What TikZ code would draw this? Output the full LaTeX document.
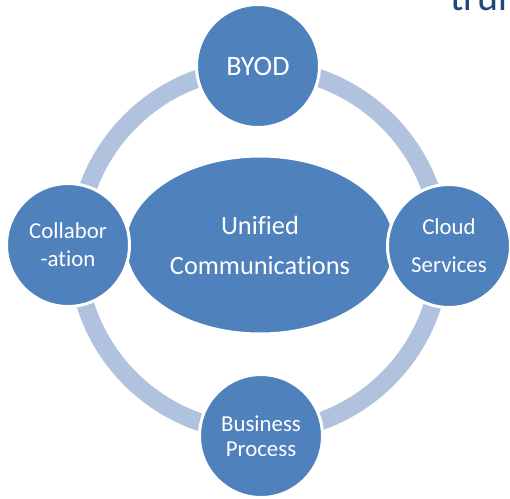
\documentclass[tikz,border=0pt]{standalone}
\usepackage{fontspec}
\setmainfont{Carlito}[Ligatures=NoCommon]
\usetikzlibrary{shapes.geometric}
\definecolor{ringblau}{RGB}{176,194,222}
\definecolor{kreisblau}{RGB}{79,129,189}
\definecolor{textblau}{RGB}{31,73,125}
\begin{document}
\begin{tikzpicture}[x=0.02cm,y=-0.02cm,
	kreis/.style={circle,fill=kreisblau,draw=white,line width=1.7pt,minimum size=2.46cm,inner sep=0pt,text=white,align=center},
	mitte/.style={ellipse,fill=kreisblau,draw=white,line width=1.7pt,minimum width=5.4cm,minimum height=3.56cm,inner sep=0pt,text=white,align=center}]
	\useasboundingbox (0,0) rectangle (510,498);
	\clip (0,0) rectangle (510,498);
	%abgeschnittener Titel
	\node [textblau,anchor=base west,font=\fontsize{22.7}{27}\selectfont,inner sep=0pt] (titel) at (450,10) {trun};
	%Ring
	\coordinate (zentrum) at (259,250);
	\draw [ringblau,line width=10.2pt] (zentrum) circle (182);
	%Mitte
	\node [mitte,font=\fontsize{15}{22.7}\selectfont] (uc) at (260,245) {Unified\\Communications};
	%Kreise
	\node [kreis,font=\fontsize{16}{19}\selectfont] (byod) at (258,66) {BYOD};
	\node [kreis,font=\fontsize{13}{15.9}\selectfont] (collab) at (68,245) {Collabor\\-ation};
	\node [kreis,font=\fontsize{13}{21.5}\selectfont] (cloud) at (449,246) {Cloud\\Services};
	\node [kreis,font=\fontsize{13}{14.2}\selectfont] (business) at (261,436) {Business\\Process};
\end{tikzpicture}
\end{document}
